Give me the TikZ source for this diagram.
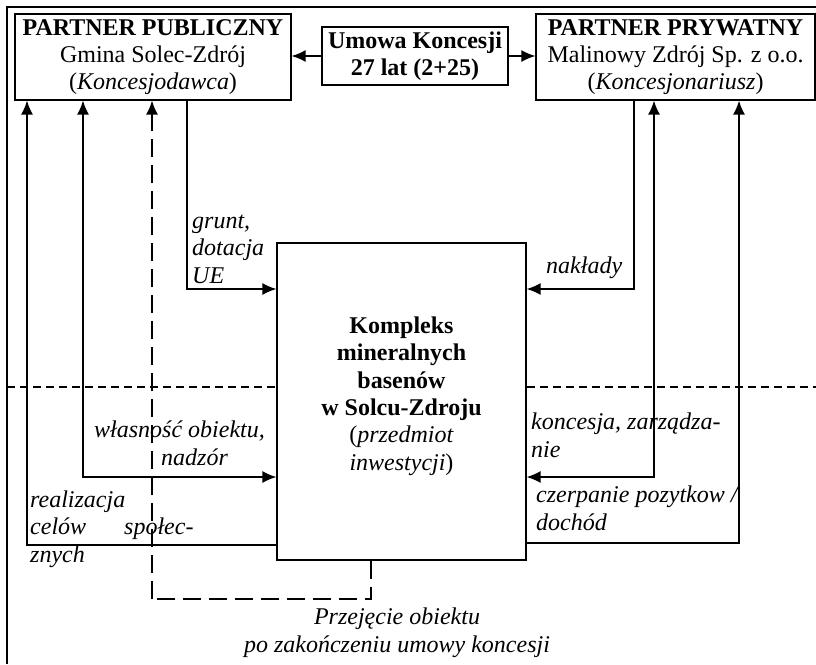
\documentclass[tikz,border=0pt]{standalone}
\usepackage{fontspec}
\setmainfont{Liberation Serif}
\usetikzlibrary{arrows.meta}
\tikzset{
  box/.style={draw, line width=1.3pt, align=center, inner sep=0pt},
  lbl/.style={anchor=base west, align=left, inner sep=0pt},
  arr/.style={line width=1.4pt, -{Latex[length=14pt,width=12pt]}},
  arrs/.style={line width=1.4pt, {Latex[length=14pt,width=12pt]}-{Latex[length=14pt,width=12pt]}},
  longdash/.style={line width=1.4pt, dash pattern=on 18pt off 8pt}
}
\begin{document}
\begin{tikzpicture}[x=1pt, y=-1pt, font=\fontsize{24}{27.3}\selectfont]
        \useasboundingbox (0,0) rectangle (816,664);
        \draw[line width=1.3pt] (7,664) -- (7,7) -- (816,7);

        \node[box, minimum width=276pt, minimum height=86pt] (pub) at (153,57)
            {\textbf{PARTNER PUBLICZNY}\\Gmina Solec-Zdrój\\(\textit{Koncesjodawca})};
        \node[box, minimum width=186pt, minimum height=58pt] (umowa) at (415,56)
            {\textbf{Umowa Koncesji}\\\textbf{27 lat (2+25)}};
        \node[box, minimum width=279pt, minimum height=86pt] (pryw) at (675.5,57)
            {\textbf{PARTNER PRYWATNY}\\Malinowy Zdrój Sp. z o.o.\\(\textit{Koncesjonariusz})};
        \node[box, minimum width=249pt, minimum height=317pt] (obj) at (401.5,401.5) {};
        \node[anchor=base, align=center, inner sep=0pt] (objtxt) at (401.5,470)
            {\textbf{Kompleks}\\\textbf{mineralnych}\\\textbf{basenów}\\\textbf{w Solcu-Zdroju}\\(\textit{przedmiot}\\\textit{inwestycji})};

        \draw[arr] (umowa.west) -- (pub.east |- umowa.west);
        \draw[arr] (umowa.east) -- (pryw.west |- umowa.east);

        \draw[dash pattern=on 8pt off 5pt, line width=1.3pt] (7,387) -- (obj.west |- 0,387);
        \draw[dash pattern=on 8pt off 5pt, line width=1.3pt] (obj.east |- 0,387) -- (816,387);

        \draw[arr] (pub.south -| 187,0) |- (obj.west |- 0,289);
        \draw[arr] (pryw.south -| 634,0) |- (obj.east |- 0,289);
        \draw[arrs] (pub.south -| 83,0) |- (obj.west |- 0,477);
        \draw[arrs] (pryw.south -| 654,0) |- (obj.east |- 0,477);
        \draw[arr] (obj.west |- 0,545) -| (pub.south -| 27,0);
        \draw[arr] (obj.east |- 0,543) -| (pryw.south -| 739,0);

        \coordinate (ret) at (152,599);
        \draw[longdash] (obj.south -| 371,0) |- (ret);
        \draw[longdash, -{Latex[length=14pt,width=12pt]}] (ret) -- (pub.south -| 152,0);

        \node[lbl] (grunt) at (192,283) {\textit{grunt,}\\\textit{dotacja}\\\textit{UE}};
        \node[lbl] (naklady) at (546,273) {\textit{nakłady}};
        \node[lbl] (wlasnosc) at (94,465) {\textit{własność obiektu,}\\\hspace*{67pt}\textit{nadzór}};
        \node[lbl] (koncesja) at (531,457) {\textit{koncesja, zarządza-}\\\textit{nie}};
        \node[lbl] (realizacja) at (30,562) {\textit{realizacja}\\\textit{celów}\hspace*{38pt}\textit{społec-}\\\textit{znych}};
        \node[lbl] (czerpanie) at (536,530) {\textit{czerpanie pozytkow /}\\\textit{dochód}};
        \node[anchor=base, align=center, inner sep=0pt] (przejecie) at (397,652)
            {\textit{Przejęcie obiektu}\\\textit{po zakończeniu umowy koncesji}};
    \end{tikzpicture}
\end{document}
